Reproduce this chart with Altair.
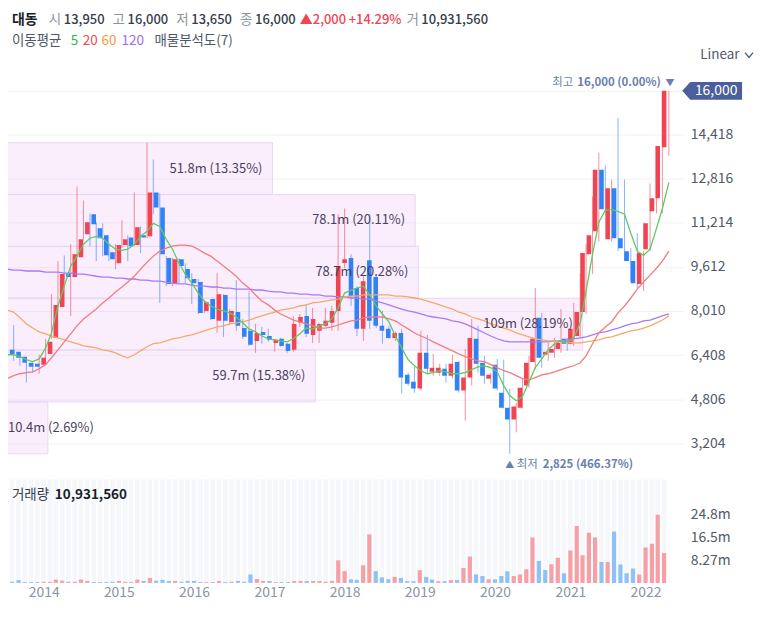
import altair as alt
import pandas as pd

FONT = "Noto Sans CJK KR"

# ---------------- data (monthly candles, Jul 2013 .. Apr 2022) ----------------
months = [f"{2013 + (6 + k) // 12}/{(6 + k) % 12 + 1:02d}/01" for k in range(106)]

open_ = [6420, 6600, 6530, 6350, 6130, 6090, 6060, 6450, 7030, 8150,
         9380, 9240, 9960, 10790, 11520, 11010, 10760, 10140, 9740, 10400,
         10680, 10400, 10760, 10720, 12310, 11770, 9930, 9020, 9890, 9530,
         9170, 9060, 8010, 8440, 7650, 8590, 7610, 7970, 7390, 7290,
         6920, 7250, 7100, 6850, 7000, 6820, 6600, 7580, 7830, 7140,
         7290, 7470, 7580, 8010, 9750, 9930, 8840, 7360, 9850, 9240,
         7470, 7360, 7030, 7210, 5690, 5440, 5190, 6490, 5800, 5770,
         5910, 5660, 6160, 5120, 5590, 7000, 6130, 5550, 6060, 5040,
         4500, 4070, 4500, 5300, 6160, 7760, 6420, 6490, 6630, 7000,
         6820, 7100, 7970, 10070, 10900, 13140, 10610, 12460, 10650, 10180,
         9820, 8990, 10250, 11630, 12100, 13950]
high = [7180, 7250, 7500, 6420, 6160, 6130, 6420, 7000, 8620, 9820,
        10030, 10430, 12530, 12020, 11550, 11230, 11190, 10470, 10430, 11300,
        10760, 12310, 11080, 14120, 13510, 12280, 10000, 9930, 9930, 9740,
        9380, 9170, 8370, 8440, 9380, 8620, 8080, 9130, 7720, 8730,
        7540, 7430, 7360, 7000, 7030, 6850, 7830, 7900, 8260, 8120,
        7580, 8120, 8200, 11520, 11730, 10070, 8910, 9270, 11520, 9350,
        8010, 7470, 7250, 7360, 5770, 6020, 7290, 7140, 6450, 6090,
        6090, 6420, 6200, 6630, 7720, 7470, 6380, 5770, 6270, 6240,
        5190, 4680, 5550, 6380, 8840, 7940, 6850, 7030, 8080, 7030,
        8300, 9380, 10430, 12170, 13760, 13290, 12780, 15020, 12780, 10290,
        10830, 10180, 12640, 13580, 15750, 16000]
low = [6380, 6350, 6200, 6020, 5410, 5770, 5730, 6240, 7000, 8010,
       9170, 7830, 9930, 10610, 10360, 9820, 10000, 9820, 9530, 10290,
       9820, 10360, 10110, 10650, 11520, 8300, 8910, 8910, 9020, 9020,
       8260, 7900, 7940, 7680, 7210, 7070, 7500, 7290, 7000, 6740,
       6490, 6820, 6890, 6530, 6710, 6490, 6530, 7430, 7070, 6850,
       6850, 7430, 7290, 7290, 9560, 8190, 7100, 6920, 7360, 7390,
       6820, 7000, 6920, 5010, 5300, 5040, 5120, 5730, 5660, 5660,
       5410, 5550, 5040, 4030, 5300, 5770, 5370, 5370, 5120, 4470,
       2825, 3600, 4470, 5220, 5910, 5950, 6200, 6310, 6490, 6560,
       6740, 7030, 7900, 9350, 10540, 11630, 10540, 10180, 9820, 9090,
       8840, 8730, 10180, 11550, 11550, 13650]
close = [6560, 6420, 6310, 6130, 5980, 5980, 6310, 6890, 8230, 9350,
         9240, 10070, 10610, 11230, 11160, 10650, 10030, 9890, 10400, 10610,
         10360, 11050, 10680, 12310, 11770, 10070, 8990, 9890, 9640, 9200,
         9020, 7940, 8330, 7720, 8620, 7650, 8010, 7470, 7070, 6780,
         7210, 7140, 6960, 6960, 6740, 6560, 7540, 7790, 7180, 7720,
         7540, 7650, 8010, 9640, 9890, 8550, 7360, 9090, 7650, 7470,
         7290, 7030, 7210, 5590, 5370, 5190, 6490, 5910, 5950, 5950,
         5660, 6090, 5120, 5590, 7030, 6090, 5660, 5690, 5190, 4500,
         4070, 4540, 5220, 6130, 7000, 6310, 6530, 6630, 6850, 6820,
         7360, 7970, 10110, 10760, 13140, 11700, 12460, 10650, 10290, 9820,
         9020, 10110, 11190, 12100, 14000, 16000]

# monthly volume, millions of shares
volume_m = [1.2, 0.4, 1.0, 0.3, 0.3, 0.3, 0.4, 0.4, 1.2, 0.8,
            0.4, 0.4, 1.2, 0.7, 0.3, 0.3, 0.3, 0.4, 0.7, 0.4,
            0.3, 1.2, 0.7, 1.8, 0.8, 1.1, 0.7, 0.7, 0.4, 0.7,
            0.7, 0.3, 0.3, 0.3, 0.7, 0.3, 0.4, 0.7, 0.4, 3.1,
            1.4, 0.7, 0.7, 0.3, 0.3, 0.3, 0.7, 0.7, 0.7, 0.7,
            0.7, 0.4, 0.7, 8.2, 4.3, 1.3, 1.1, 6.4, 17.7, 4.3,
            2.0, 1.3, 2.2, 1.8, 0.6, 0.6, 4.6, 2.2, 1.2, 0.6,
            0.6, 1.0, 1.0, 5.4, 9.6, 3.1, 2.5, 1.3, 1.3, 2.5,
            4.2, 2.5, 3.1, 5.0, 16.5, 8.0, 4.7, 6.8, 9.2, 3.5,
            11.8, 20.7, 10.1, 18.3, 16.5, 7.6, 7.6, 18.7, 6.7, 3.5,
            5.2, 3.1, 12.9, 14.3, 24.8, 10.93156]
# colour of each volume bar as seen (R = rising, B = falling)
vol_dir = ("RBBBBBRRRR" "BRRRBBBBRR" "BRBRBBBRBB" "BBRBRBRBBB" "RRBRBBRRBR"
           "RRRRRBBRRB" "BBRBBBRBBR" "BRBRRBBRBB" "BRRRRBBRRB" "RRRRRBRBBB" "BRRRRR")

ma5 = [6200, 6420, 6420, 6350, 6240, 6170, 6270, 6670, 7210, 8190,
       8910, 9640, 10000, 10430, 10650, 10720, 10650, 10430, 10250, 10210,
       10250, 10430, 10720, 10900, 11190, 11080, 10610, 10250, 9740, 9350,
       9020, 8660, 8370, 8190, 8080, 8010, 7940, 7790, 7580, 7360,
       7250, 7100, 7000, 6960, 6920, 6890, 7000, 7180, 7390, 7360,
       7470, 7540, 7720, 8120, 8660, 8770, 8840, 8910, 8590, 8190,
       7900, 7610, 7100, 6670, 6240, 6020, 5840, 5730, 5770, 5840,
       5800, 5730, 5730, 5770, 5880, 5980, 6020, 5950, 5800, 5300,
       4940, 4750, 4900, 5440, 5950, 6270, 6600, 6820, 6920, 6890,
       7030, 7580, 8730, 10070, 11230, 11660, 11700, 11620, 11520, 10830,
       10180, 10030, 10250, 11010, 11730, 12670]
ma20 = [5370, 5550, 5660, 5730, 5770, 5800, 5910, 6060, 6310, 6600,
        6890, 7180, 7470, 7720, 7900, 8080, 8300, 8480, 8700, 8880,
        9060, 9270, 9530, 9780, 10000, 10180, 10290, 10360, 10400, 10400,
        10360, 10250, 10110, 10000, 9820, 9640, 9460, 9270, 9020, 8840,
        8590, 8370, 8230, 8040, 7900, 7790, 7680, 7610, 7540, 7470,
        7390, 7390, 7430, 7500, 7580, 7650, 7680, 7760, 7790, 7790,
        7790, 7720, 7650, 7500, 7360, 7210, 7100, 7000, 6890, 6780,
        6670, 6560, 6450, 6350, 6270, 6200, 6170, 6060, 5950, 5840,
        5770, 5660, 5550, 5510, 5590, 5690, 5730, 5800, 5880, 5950,
        6020, 6130, 6380, 6820, 7210, 7430, 7610, 7940, 8190, 8480,
        8800, 9060, 9310, 9560, 9820, 10180]
ma60 = [8120, 8040, 7970, 7760, 7540, 7390, 7250, 7180, 7100, 7030,
        6960, 6890, 6820, 6740, 6710, 6670, 6600, 6560, 6490, 6380,
        6310, 6420, 6560, 6710, 6820, 6850, 6920, 7000, 7030, 7100,
        7140, 7210, 7290, 7360, 7430, 7470, 7540, 7580, 7610, 7680,
        7760, 7830, 7900, 7970, 8040, 8080, 8120, 8190, 8230, 8300,
        8330, 8370, 8410, 8440, 8520, 8550, 8550, 8590, 8590, 8590,
        8590, 8590, 8550, 8550, 8520, 8480, 8440, 8370, 8300, 8230,
        8150, 8080, 7970, 7900, 7790, 7720, 7650, 7540, 7470, 7390,
        7320, 7210, 7140, 7070, 7000, 6960, 6920, 6920, 6890, 6890,
        6850, 6850, 6890, 6920, 6960, 7030, 7070, 7140, 7210, 7290,
        7320, 7390, 7470, 7580, 7680, 7830]
ma120 = [9530, 9530, 9490, 9490, 9460, 9460, 9460, 9420, 9420, 9420,
         9380, 9380, 9350, 9350, 9310, 9270, 9240, 9240, 9200, 9200,
         9170, 9170, 9130, 9130, 9090, 9090, 9060, 9020, 8990, 8990,
         8950, 8910, 8910, 8880, 8880, 8840, 8840, 8800, 8800, 8800,
         8770, 8770, 8730, 8700, 8700, 8660, 8660, 8620, 8620, 8590,
         8590, 8550, 8550, 8520, 8520, 8480, 8480, 8440, 8440, 8370,
         8300, 8230, 8150, 8080, 8010, 7970, 7900, 7830, 7790, 7760,
         7720, 7650, 7610, 7540, 7430, 7320, 7210, 7100, 7000, 6920,
         6890, 6890, 6890, 6890, 6890, 6890, 6890, 6920, 6920, 6960,
         7000, 7030, 7070, 7140, 7210, 7250, 7320, 7390, 7470, 7540,
         7580, 7650, 7680, 7760, 7830, 7900]

# volume profile (매물분석도, 7 bins; top bin empty)
profile_lo = [2825, 4707, 6589, 8471, 10354, 12236]
profile_hi = [4707, 6589, 8471, 10354, 12236, 14118]
profile_vol = [10.4, 59.7, 109, 78.7, 78.1, 51.8]
profile_pct = [2.69, 15.38, 28.19, 20.28, 20.11, 13.35]

price_ticks = [3204, 4806, 6408, 8010, 9612, 11214, 12816, 14418, 16000]
volume_ticks = [8.27, 16.5, 24.8]
years = list(range(2014, 2023))

# ---------------- styling ----------------
RED, BLUE = "#f04452", "#3182f6"
VRED, VBLUE = "#f6a0a6", "#8fc1f7"
HL = "#6a7eb0"
W, H1, H2 = 678, 407, 104

candles = pd.DataFrame({
    "date": months, "open": open_, "high": high, "low": low, "close": close,
    "dir": ["up" if c >= o else "down" for o, c in zip(open_, close)],
})
vol_df = pd.DataFrame({
    "date": months, "vol": volume_m,
    "dir": ["up" if d == "R" else "down" for d in vol_dir],
})
profile = pd.DataFrame({
    "lo": profile_lo, "hi": profile_hi, "vol": profile_vol,
    "label": [f"{v:g}m ({p:.2f}%)" for v, p in zip(profile_vol, profile_pct)],
})

xs = alt.Scale(domain=[alt.DateTime(year=2013, month=8, date=5),
                       alt.DateTime(year=2022, month=6, date=9)], nice=False)
ys = alt.Scale(domain=[2115, 16832], nice=False, zero=False)
ps = alt.Scale(domain=[3.048, 127.54], nice=False, zero=False)
vs = alt.Scale(domain=[0, 37.76], nice=False)

yax = alt.Axis(orient="right", values=price_ticks,
               labelExpr=f"datum.value == {price_ticks[-1]} ? '' : format(datum.value, ',d')",
               grid=True, gridColor="#f1f2f5", gridWidth=1, domain=False, ticks=False,
               tickSize=0, labelPadding=7, labelFontSize=14, labelColor="#505967",
               labelFont=FONT, title=None, labelOverlap=False, labelFlush=False)
XT = alt.X("date:T", scale=xs, axis=None)
dircol = alt.Color("dir:N", scale=alt.Scale(domain=["up", "down"], range=[RED, BLUE]), legend=None)


def label(text, x, y, color, size=13.5, weight="normal", align="left"):
    return alt.Chart(pd.DataFrame({"t": [text]})).mark_text(
        align=align, baseline="middle", fontSize=size, fontWeight=weight,
        color=color, font=FONT
    ).encode(x=alt.value(x), y=alt.value(y), text="t:N")


# volume profile boxes + labels
boxes = alt.Chart(profile).mark_rect(
    clip=True, fill="#e6aaf5", fillOpacity=0.2, stroke="#ead6f4", strokeWidth=1
).encode(x=alt.X("vol:Q", scale=ps, axis=None), x2=alt.datum(0),
         y=alt.Y("lo:Q", scale=ys, axis=yax), y2="hi:Q")
ptext = alt.Chart(profile).transform_calculate(mid="(datum.lo + datum.hi) / 2")
ptext_big = ptext.transform_filter("datum.vol >= 20").mark_text(
    align="right", dx=-10, baseline="middle", fontSize=13, color="#4a3f5e", font=FONT
).encode(x=alt.X("vol:Q", scale=ps, axis=None), y=alt.Y("mid:Q", scale=ys, axis=yax), text="label:N")
ptext_small = ptext.transform_filter("datum.vol < 20").mark_text(
    align="left", baseline="middle", fontSize=13, color="#4a3f5e", font=FONT
).encode(x=alt.value(0), y=alt.Y("mid:Q", scale=ys, axis=yax), text="label:N")

# candles
wick = alt.Chart(candles).mark_rule(clip=True, strokeWidth=1, opacity=0.6).encode(
    x=XT, y=alt.Y("low:Q", scale=ys, axis=yax), y2="high:Q", color=dircol)
body = alt.Chart(candles).mark_bar(clip=True, width=4.6).encode(
    x=XT, y=alt.Y("open:Q", scale=ys, axis=yax), y2="close:Q", color=dircol)

# moving averages
ma_layers = []
for vals, col in [(ma120, "#a87af5"), (ma60, "#f5aa64"), (ma20, "#f47c7c"), (ma5, "#62c962")]:
    mdf = pd.DataFrame({"date": months, "ma": vals})
    ma_layers.append(alt.Chart(mdf).mark_line(clip=True, color=col, strokeWidth=1.3).encode(
        x=XT, y=alt.Y("ma:Q", scale=ys, axis=yax)))

# high / low markers
hi_i = high.index(max(high))
lo_i = low.index(min(low))
last = close[-1]
hi_df = pd.DataFrame({"date": [months[hi_i]], "price": [high[hi_i]],
                      "num": [f"{high[hi_i]:,} ({(last - high[hi_i]) / high[hi_i] * 100:.2f}%)"]})
lo_df = pd.DataFrame({"date": [months[lo_i]], "price": [low[lo_i]],
                      "num": [f"{low[lo_i]:,} ({(last - low[lo_i]) / low[lo_i] * 100:.2f}%)"]})


def anno(df, text=None, field=None, dx=0, dy=0, align="left", weight="normal", size=11.5):
    enc = dict(x=XT, y=alt.Y("price:Q", scale=ys, axis=yax))
    if field:
        enc["text"] = f"{field}:N"
    else:
        enc["text"] = alt.value(text)
    return alt.Chart(df).mark_text(align=align, baseline="middle", dx=dx, dy=dy,
                                   fontSize=size, fontWeight=weight, color=HL,
                                   font=FONT).encode(**enc)


hi_layers = [anno(hi_df, text="최고", dx=-96, dy=-8, align="right"),
             anno(hi_df, field="num", dx=-8, dy=-8, align="right", weight="bold"),
             anno(hi_df, text="▼", dx=1, dy=-8, align="center", size=9)]
lo_layers = [anno(lo_df, text="▲", dx=0, dy=11, align="center", size=9),
             anno(lo_df, text="최저", dx=7, dy=11),
             anno(lo_df, field="num", dx=33, dy=11, weight="bold")]

# last price tag
tag_df = pd.DataFrame({"price": [last], "label": [f"{last:,}"]})
tag = alt.Chart(tag_df).mark_point(
    shape="M -1 0 L -0.733 -0.3 L 1 -0.3 L 1 0.3 L -0.733 0.3 Z", size=3600,
    filled=True, color="#4a5f9b", opacity=1, strokeWidth=0
).encode(x=alt.value(707), y=alt.Y("price:Q", scale=ys, axis=yax))
tag_text = alt.Chart(tag_df).mark_text(color="white", fontSize=14, align="center",
                                       baseline="middle", font=FONT).encode(
    x=alt.value(711), y=alt.Y("price:Q", scale=ys, axis=yax), text="label:N")

# header
chg = close[-1] - close[-2]
GR, DK = "#8b95a1", "#333d4b"
hy = -48
header = [
    label("대동", 4, hy, "#191f28", 14, "bold"),
    label("시", 41, hy, GR), label(f"{open_[-1]:,}", 56, hy, DK, 13, 500),
    label("고", 105, hy, GR), label(f"{high[-1]:,}", 120, hy, DK, 13, 500),
    label("저", 169, hy, GR), label(f"{low[-1]:,}", 184, hy, DK, 13, 500),
    label("종", 233, hy, GR), label(f"{close[-1]:,}", 248, hy, DK, 13, 500),
    label(f"▲{chg:,}", 293, hy, RED, 13, 500),
    label(f"+{chg / close[-2] * 100:.2f}%", 342, hy, RED, 13, 500),
    label("거", 400, hy, GR),
    label(f"{round(volume_m[-1] * 1e6):,}", 415, hy, DK, 13, 500),
]
ly = -27
legend = [
    label("이동평균", 4, ly, "#4e5968"),
    label("5", 63, ly, "#2fb545"),
    label("20", 75, ly, "#f0484f"),
    label("60", 94, ly, "#f59a3c"),
    label("120", 114, ly, "#9c6cf2"),
    label("매물분석도(7)", 147, ly, "#4e5968"),
    label("Linear", 695, -13, "#4e5968"),
]
chevron = alt.Chart(pd.DataFrame({"t": [0]})).mark_point(
    shape="M -1 -0.6 L 0 0.6 L 1 -0.6", filled=False, size=64, strokeWidth=1.3,
    color="#4e5968", opacity=1
).encode(x=alt.value(744), y=alt.value(-13))
# invisible anchor fixing the top edge of the drawing
anchor = alt.Chart(pd.DataFrame({"t": [0]})).mark_point(
    opacity=0, size=1, filled=True
).encode(x=alt.value(2), y=alt.value(-58))

top = alt.layer(
    boxes, wick, body, *ma_layers, ptext_big, ptext_small,
    *hi_layers, *lo_layers, tag, tag_text, *header, *legend, chevron, anchor
).resolve_scale(x="independent").properties(width=W, height=H1)

# ---------------- volume pane ----------------
xax = alt.Axis(values=[alt.DateTime(year=y, month=1, date=1) for y in years], format="%Y",
               labelFontSize=14, labelColor="#8b95a1", labelFont=FONT, domain=False,
               ticks=False, tickSize=0, grid=False, labelPadding=3, labelFlush=False,
               labelOverlap=False, title=None)
vax = alt.Axis(orient="right", values=volume_ticks, labelExpr="datum.value + 'm'",
               grid=False, domain=False, ticks=False, tickSize=0, labelPadding=7,
               labelFontSize=14, labelColor="#505967", labelFont=FONT, title=None,
               labelFlush=False, labelOverlap=False)
stripes = alt.Chart(candles).mark_rule(clip=True, strokeWidth=4.7, color="#f5f7fb").encode(
    x=alt.X("date:T", scale=xs, axis=xax), y=alt.value(0), y2=alt.value(H2))
vbars = alt.Chart(vol_df).mark_bar(clip=True, width=4.2).encode(
    x=alt.X("date:T", scale=xs, axis=xax),
    y=alt.Y("vol:Q", scale=vs, axis=vax, stack=None),
    color=alt.Color("dir:N", scale=alt.Scale(domain=["up", "down"], range=[VRED, VBLUE]), legend=None))
vlabel = [label("거래량", 4, 16, "#333d4b"),
          label(f"{round(volume_m[-1] * 1e6):,}", 47, 16, "#191f28", 13.5, "bold")]

bottom = alt.layer(stripes, vbars, *vlabel).properties(width=W, height=H2)

chart = alt.vconcat(top, bottom, spacing=6).resolve_scale(
    x="independent", y="independent", color="independent"
).properties(padding=0).configure_view(strokeWidth=0)

chart.save("out.html", embed_options={"renderer": "svg", "actions": False})
